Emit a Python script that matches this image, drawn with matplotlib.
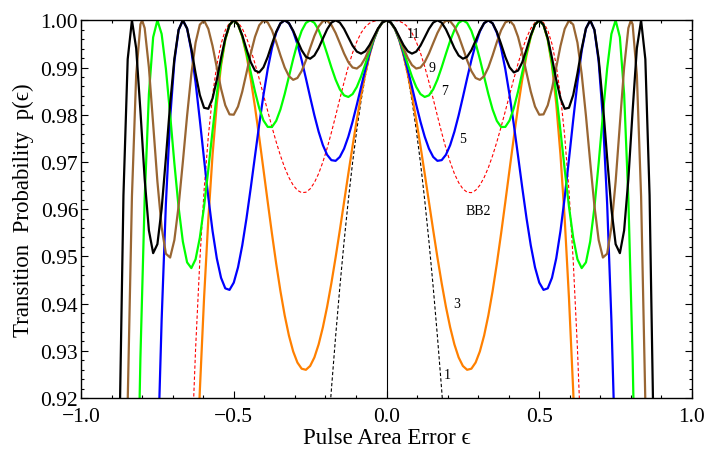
import numpy as np
import matplotlib
matplotlib.use("Agg")
import matplotlib.pyplot as plt
from matplotlib.ticker import MultipleLocator, FuncFormatter

# values; every curve is symmetric, so only eps >= 0 is kept
eps_grid = [0, 0.01389, 0.02778, 0.04167, 0.05556, 0.06944, 0.08333, 0.09722,
            0.11111, 0.125, 0.13889, 0.15278, 0.16667, 0.18056, 0.19444,
            0.20833, 0.22222, 0.23611, 0.25, 0.26389, 0.27778, 0.29167,
            0.30556, 0.31944, 0.33333, 0.34722, 0.36111, 0.375, 0.38889,
            0.40278, 0.41667, 0.43056, 0.44444, 0.45833, 0.47222, 0.48611,
            0.5, 0.51389, 0.52778, 0.54167, 0.55556, 0.56944, 0.58333,
            0.59722, 0.61111, 0.625, 0.63889, 0.65278, 0.66667, 0.68056,
            0.69444, 0.70833, 0.72222, 0.73611, 0.75, 0.76389, 0.77778,
            0.79167, 0.80556, 0.81944, 0.83333, 0.84722, 0.86111, 0.875]

p_1 = [1, 0.99952, 0.99810, 0.99572, 0.99240, 0.98815, 0.98296, 0.97686,
       0.96985, 0.96194, 0.95315, 0.94351, 0.93301, 0.92170, 0.90958]

p_3 = [1, 0.99953, 0.99811, 0.99580, 0.99263, 0.98870, 0.98410, 0.97895,
       0.97337, 0.96751, 0.96152, 0.95555, 0.94976, 0.94430, 0.93932,
       0.93497, 0.93135, 0.92859, 0.92678, 0.92597, 0.92620, 0.92751,
       0.92986, 0.93321, 0.93750, 0.94262, 0.94844, 0.95480, 0.96152,
       0.96838, 0.97518, 0.98165, 0.98754, 0.99259, 0.99653, 0.99909,
       1, 0.99901, 0.99587, 0.99037, 0.98231, 0.97151, 0.95784, 0.94119,
       0.92151, 0.89876]

p_5 = [1, 0.99953, 0.99814, 0.99591, 0.99300, 0.98958, 0.98587, 0.98210,
       0.97852, 0.97535, 0.97281, 0.97106, 0.97023, 0.97038, 0.97151,
       0.97356, 0.97641, 0.97987, 0.98373, 0.98771, 0.99155, 0.99494,
       0.99763, 0.99938, 1, 0.99935, 0.99738, 0.99412, 0.98965, 0.98417,
       0.97793, 0.97125, 0.96450, 0.95806, 0.95232, 0.94767, 0.94444,
       0.94290, 0.94322, 0.94546, 0.94958, 0.95537, 0.96252, 0.97056,
       0.97889, 0.98682, 0.99355, 0.99824, 1, 0.99795, 0.99127, 0.97920,
       0.96112, 0.93654, 0.90516]

p_7 = [1, 0.99953, 0.99817, 0.99608, 0.99349, 0.99072, 0.98808, 0.98588,
       0.98437, 0.98376, 0.98410, 0.98538, 0.98744, 0.99005, 0.99290,
       0.99564, 0.99793, 0.99946, 1, 0.99944, 0.99777, 0.99514, 0.99179,
       0.98807, 0.98438, 0.98112, 0.97870, 0.97740, 0.97742, 0.97878,
       0.98138, 0.98492, 0.98900, 0.99309, 0.99664, 0.99910, 1, 0.99901,
       0.99600, 0.99101, 0.98438, 0.97660, 0.96838, 0.96054, 0.95394,
       0.94938, 0.94751, 0.94873, 0.95313, 0.96037, 0.96972, 0.98003,
       0.98977, 0.99710, 1, 0.99641, 0.98438, 0.96219, 0.92860, 0.88290]

eps_9 = eps_grid[:58] + [0.8] + eps_grid[58:63]
p_9 = [1, 0.99953, 0.99821, 0.99628, 0.99409, 0.99204, 0.99051, 0.98978,
       0.99000, 0.99113, 0.99296, 0.99516, 0.99732, 0.99902, 0.99992,
       0.99981, 0.99868, 0.99668, 0.99414, 0.99151, 0.98925, 0.98778,
       0.98739, 0.98817, 0.99000, 0.99256, 0.99537, 0.99788, 0.99955,
       0.99997, 0.99894, 0.99649, 0.99296, 0.98887, 0.98489, 0.98173,
       0.98000, 0.98007, 0.98200, 0.98552, 0.99000, 0.99456, 0.99819,
       0.99995, 0.99908, 0.99526, 0.98860, 0.97980, 0.97000, 0.96068,
       0.95345, 0.94975, 0.95056, 0.95615, 0.96586, 0.97802, 0.99000,
       0.99835, 1, 0.99916, 0.98845, 0.96268, 0.91921, 0.85676]

p_11 = [1, 0.99953, 0.99826, 0.99651, 0.99475, 0.99344, 0.99294, 0.99337,
        0.99463, 0.99639, 0.99818, 0.99951, 1, 0.99950, 0.99809, 0.99613,
        0.99410, 0.99254, 0.99186, 0.99227, 0.99366, 0.99568, 0.99779,
        0.99939, 1, 0.99936, 0.99756, 0.99498, 0.99224, 0.99004, 0.98897,
        0.98935, 0.99112, 0.99386, 0.99681, 0.99911, 1, 0.99903, 0.99620,
        0.99201, 0.98739, 0.98346, 0.98126, 0.98147, 0.98417, 0.98875,
        0.99399, 0.99827, 1, 0.99799, 0.99186, 0.98225, 0.97084, 0.96006,
        0.95258, 0.95068, 0.95548, 0.96639, 0.98080, 0.99406, 1, 0.99177,
        0.96294, 0.90877]

p_bb2 = [1, 0.99999, 0.99996, 0.99979, 0.99939, 0.99860, 0.99732, 0.99549,
         0.99310, 0.99020, 0.98690, 0.98336, 0.97973, 0.97620, 0.97290,
         0.96998, 0.96752, 0.96562, 0.96429, 0.96358, 0.96349, 0.96399,
         0.96507, 0.96669, 0.96879, 0.97133, 0.97423, 0.97740, 0.98076,
         0.98419, 0.98759, 0.99082, 0.99377, 0.99630, 0.99827, 0.99955,
         1, 0.99950, 0.99790, 0.99498, 0.99050, 0.98410, 0.97541, 0.96393,
         0.94912, 0.93039, 0.90707]

label_text = ["11", "9", "7", "5", "BB2", "3", "1"]
label_eps = [0.087, 0.148, 0.189, 0.248, 0.301, 0.229, 0.199]
label_p = [0.9971, 0.9900, 0.9851, 0.9750, 0.9598, 0.9401, 0.9249]


def mirror(eps, p):
    """whole curve from its right half"""
    eps = np.asarray(eps)[:len(p)]
    p = np.asarray(p)
    return (np.concatenate((-eps[::-1], eps[1:])),
            np.concatenate((p[::-1], p[1:])))


plt.rcParams['font.family'] = ['Liberation Serif', 'DejaVu Serif']

fig = plt.figure(figsize=(7.07, 4.52), dpi=100)
ax = fig.add_axes([0.1146, 0.1173, 0.8642, 0.8356])

dashed = (0, (3, 2))
curves = [
    (eps_grid, p_1, 'black', dashed, 0.8),
    (eps_grid, p_bb2, 'red', dashed, 0.8),
    (eps_grid, p_3, '#ff8000', '-', 1.6),
    (eps_grid, p_5, '#0000ff', '-', 1.6),
    (eps_grid, p_7, '#00ff00', '-', 1.6),
    (eps_9, p_9, '#996633', '-', 1.6),
    (eps_grid, p_11, 'black', '-', 1.6),
]
for eps, p, color, ls, lw in curves:
    x, y = mirror(eps, p)
    ax.plot(x, y, color=color, ls=ls, lw=lw)

ax.axvline(0, color='black', lw=0.8)

for txt, e, p in zip(label_text, label_eps, label_p):
    ax.text(e, p, txt, fontsize=10, ha='center', va='center')

ax.set_xlim(-1, 1)
ax.set_ylim(0.92, 1.0)
ax.xaxis.set_major_locator(MultipleLocator(0.5))
ax.xaxis.set_minor_locator(MultipleLocator(0.1))
ax.yaxis.set_major_locator(MultipleLocator(0.01))
ax.yaxis.set_minor_locator(MultipleLocator(0.002))
ax.xaxis.set_major_formatter(
    FuncFormatter(lambda v, _: f"{round(v, 3) + 0.0:.1f}".replace("-", "\u2212")))
ax.yaxis.set_major_formatter(FuncFormatter(lambda v, _: f"{v:.2f}"))
ax.tick_params(which='both', direction='in', top=True, right=True,
               labelsize=15.5, width=0.8)
ax.tick_params(which='major', length=5)
ax.tick_params(which='minor', length=2.5)
ax.tick_params(axis='x', pad=6.5)
ax.tick_params(axis='y', pad=2)
for s in ax.spines.values():
    s.set_linewidth(1.0)

ax.set_xlabel("Pulse Area Error \u03f5", fontsize=16.5, va='baseline')
ax.xaxis.set_label_coords(0.5, -0.118)
ax.set_ylabel("Transition  Probability  p(\u03f5)", fontsize=16.5)
ax.yaxis.set_label_coords(-0.077, 0.5)

fig.savefig("out.png", dpi=100)
